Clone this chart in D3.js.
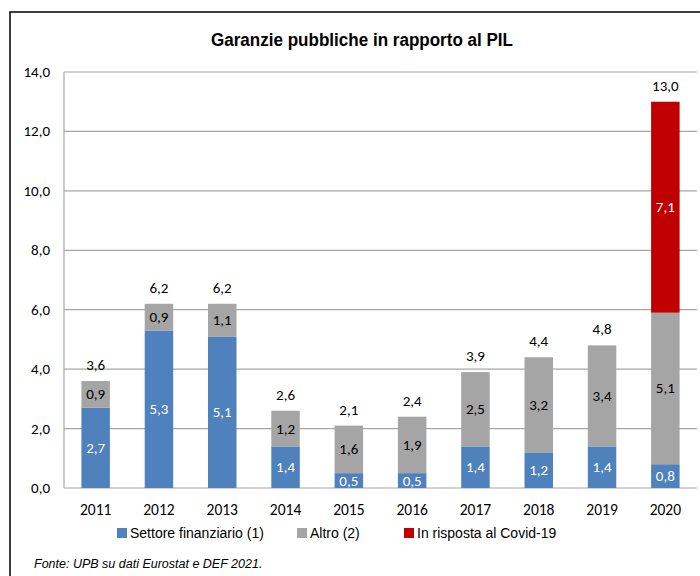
<!DOCTYPE html>
<html>
<head>
<meta charset="utf-8">
<script src="https://cdn.jsdelivr.net/npm/d3@7"></script>
<style>
  body { margin: 0; background: #fff; }
  svg { display: block; }
</style>
</head>
<body>
<svg id="chart" width="700" height="576"></svg>
<script>
// data
var years = ['2011', '2012', '2013', '2014', '2015', '2016', '2017', '2018', '2019', '2020'];
var settore = [2.7, 5.3, 5.1, 1.4, 0.5, 0.5, 1.4, 1.2, 1.4, 0.8];
var altro = [0.9, 0.9, 1.1, 1.2, 1.6, 1.9, 2.5, 3.2, 3.4, 5.1];
var covid = [0, 0, 0, 0, 0, 0, 0, 0, 0, 7.1];
var totali = [3.6, 6.2, 6.2, 2.6, 2.1, 2.4, 3.9, 4.4, 4.8, 13.0];
var yTicks = [0, 2, 4, 6, 8, 10, 12, 14];
var seriesNames = ['Settore finanziario (1)', 'Altro (2)', 'In risposta al Covid-19'];
var colors = ['#4F81BD', '#A5A5A5', '#C00000'];
var labelColors = ['#fff', '#000', '#fff'];

var svg = d3.select('#chart');
var narrow = '"Liberation Sans Narrow", "Arial Narrow", Arial, sans-serif';
var calibri = 'Carlito, Lato, Calibri, sans-serif';

var fmt = function (v) { return v.toFixed(1).replace('.', ','); };

// frame
svg.append('path')
    .attr('d', 'M10,578 L10,12 L702,12')
    .attr('fill', 'none')
    .attr('stroke', '#000')
    .attr('stroke-width', 1.5);

svg.append('text')
    .attr('x', 362).attr('y', 46)
    .attr('text-anchor', 'middle')
    .attr('textLength', 302)
    .attr('lengthAdjust', 'spacingAndGlyphs')
    .style('font-family', narrow)
    .style('font-weight', 'bold')
    .style('font-size', '18px')
    .text('Garanzie pubbliche in rapporto al PIL');

var x = d3.scaleBand().domain(years).range([64, 697]).paddingInner(0.55).paddingOuter(0.275);
var y = d3.scaleLinear().domain([0, 14]).range([488, 72]);

// gridlines
svg.append('g').selectAll('line')
    .data(yTicks).enter().append('line')
    .attr('x1', 64).attr('x2', 697)
    .attr('y1', function (d) { return y(d); })
    .attr('y2', function (d) { return y(d); })
    .attr('stroke', '#A6A6A6')
    .attr('stroke-width', 1.2);

svg.append('line')
    .attr('x1', 64).attr('x2', 64)
    .attr('y1', y(14)).attr('y2', y(0))
    .attr('stroke', '#A6A6A6')
    .attr('stroke-width', 1.2);

// y labels
svg.append('g').selectAll('text')
    .data(yTicks).enter().append('text')
    .attr('x', 50)
    .attr('y', function (d) { return y(d) + 5; })
    .attr('text-anchor', 'end')
    .style('font-family', calibri)
    .style('font-size', '15px')
    .text(fmt);

// x labels
svg.append('g').selectAll('text')
    .data(years).enter().append('text')
    .attr('x', function (d) { return x(d) + x.bandwidth() / 2; })
    .attr('y', 515)
    .attr('text-anchor', 'middle')
    .style('font-family', calibri)
    .style('font-size', '15.5px')
    .text(function (d) { return d; });

// stacked bars
var table = years.map(function (yr, i) {
    return { year: yr, s0: settore[i], s1: altro[i], s2: covid[i] };
});
var stack = d3.stack().keys(['s0', 's1', 's2'])(table);

stack.forEach(function (layer, k) {
    var g = svg.append('g');
    var segs = layer.filter(function (d) { return d[1] - d[0] > 0; });
    g.selectAll('rect')
        .data(segs)
        .enter().append('rect')
        .attr('x', function (d) { return x(d.data.year); })
        .attr('width', x.bandwidth())
        .attr('y', function (d) { return y(d[1]); })
        .attr('height', function (d) { return y(d[0]) - y(d[1]); })
        .attr('fill', colors[k]);
    g.selectAll('text')
        .data(segs)
        .enter().append('text')
        .attr('x', function (d) { return x(d.data.year) + x.bandwidth() / 2; })
        .attr('y', function (d) { return (y(d[0]) + y(d[1])) / 2 + 5; })
        .attr('text-anchor', 'middle')
        .attr('fill', labelColors[k])
        .style('font-family', calibri)
        .style('font-size', '15px')
        .text(function (d) { return fmt(d[1] - d[0]); });
});

// totals
svg.append('g').selectAll('text')
    .data(years).enter().append('text')
    .attr('x', function (d) { return x(d) + x.bandwidth() / 2; })
    .attr('y', function (d, i) { return y(totali[i]) - 11; })
    .attr('text-anchor', 'middle')
    .style('font-family', calibri)
    .style('font-size', '15px')
    .text(function (d, i) { return fmt(totali[i]); });

// legend
var legX = [117, 297, 404];
var leg = svg.append('g').selectAll('g')
    .data(seriesNames).enter().append('g')
    .attr('transform', function (d, i) { return 'translate(' + legX[i] + ',528)'; });
leg.append('rect')
    .attr('width', 10).attr('height', 10)
    .attr('fill', function (d, i) { return colors[i]; });
leg.append('text')
    .attr('x', 13).attr('y', 10)
    .style('font-family', narrow)
    .style('font-size', '14px')
    .text(function (d) { return d; });

// source
svg.append('text')
    .attr('x', 34).attr('y', 568)
    .style('font-family', narrow)
    .style('font-style', 'italic')
    .style('font-size', '12.5px')
    .text('Fonte:  UPB su dati Eurostat  e DEF 2021.');
</script>
</body>
</html>
